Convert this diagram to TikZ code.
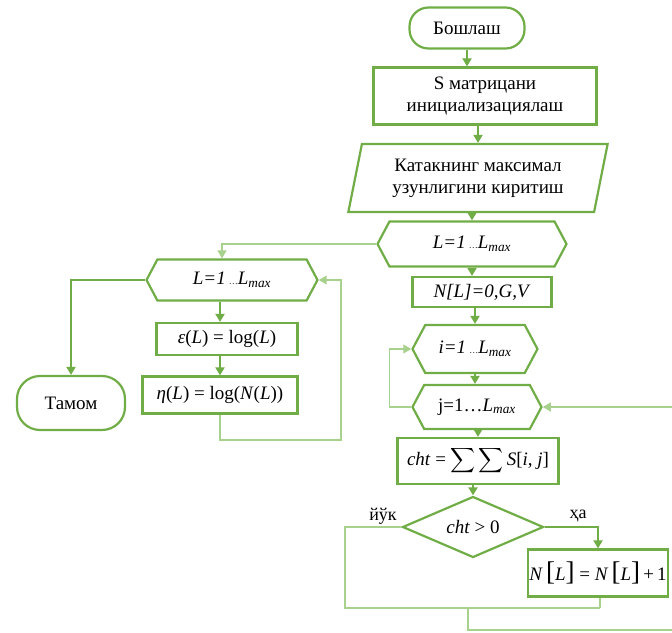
\documentclass[tikz,border=0pt]{standalone}
\usepackage{amsmath}
\usepackage{fontspec}
\setmainfont{Liberation Serif}
\usetikzlibrary{shapes.geometric, shapes.symbols, arrows.meta}

\definecolor{flowgreen}{HTML}{70AD47}
\definecolor{loopgreen}{HTML}{A9D18E}
\newcommand{\lmaxtext}{\textit{L}\textsubscript{\textit{max}}}
\newcommand{\bigbr}[1]{{\fontsize{27}{27}\selectfont#1}}

\begin{document}
\begin{tikzpicture}[
        ->,
        >={Triangle[length=8pt,width=9pt]},
        x=1pt,
        y=1pt,
        yscale=-1,
        every node/.style={font=\fontsize{19}{22}\selectfont, inner sep=1pt},
        shape border/.style={draw=flowgreen, line width=2.2pt},
        terminal/.style={shape border, rectangle, rounded corners=19pt},
        process/.style={shape border, rectangle, align=center},
        inout/.style={shape border, trapezium, trapezium left angle=76,
            trapezium right angle=104, trapezium stretches=true, align=center},
        loopbox/.style={shape border, signal, signal to=west and east,
            signal pointer angle=124},
        decision/.style={shape border, diamond, aspect=2.3, inner sep=0pt},
        flow/.style={draw=flowgreen, line width=1.8pt},
        back/.style={draw=loopgreen, line width=1.4pt},
        branch/.style={font=\fontsize{18}{20}\selectfont}
    ]
    \clip (0,0) rectangle (672,632);

    \node[terminal, minimum width=115pt, minimum height=41pt] (start) at (467,28) {Бошлаш};
    \node[process, minimum width=223pt, minimum height=57pt] (init) at (485,96) {S матрицани\\инициализациялаш};
    \node[inout, minimum width=260pt, minimum height=68pt] (input) at (478,178) {Катакнинг максимал\\узунлигини киритиш};
    \node[loopbox, minimum width=189pt, minimum height=45pt] (loopL) at (472,244) {\textit{L=1}\,{\small…}\lmaxtext};
    \node[process, minimum width=139pt, minimum height=30pt] (nInit) at (482,292) {\textit{N[L]=0,G,V}};
    \node[loopbox, minimum width=125pt, minimum height=48pt] (loopI) at (475,349) {\textit{i=1}\,{\small…}\lmaxtext};
    \node[loopbox, minimum width=129pt, minimum height=44pt] (loopJ) at (477,407) {j=1…\lmaxtext};
    \node[process, minimum width=161pt, minimum height=46pt] (sum) at (478,461) {\textit{cht} = $\displaystyle\sum\sum$\,\textit{S}[\textit{i}, \textit{j}]};
    \node[decision, minimum width=141pt, minimum height=61pt] (test) at (473,527) {\textit{cht} > 0};
    \node[process, minimum width=137pt, minimum height=47pt] (inc) at (598,573) {\textit{N}\,\bigbr{[}\textit{L}\bigbr{]} = \textit{N}\,\bigbr{[}\textit{L}\bigbr{]}\,+\,1};

    \node[loopbox, minimum width=171pt, minimum height=41pt] (leftL) at (232,280) {\textit{L=1}\,{\small…}\lmaxtext};
    \node[process, minimum width=141pt, minimum height=32pt] (eps) at (227,339) {\textit{ε}(\textit{L}) = log(\textit{L})};
    \node[process, minimum width=155pt, minimum height=37pt] (eta) at (220,395) {\textit{η}(\textit{L}) = log(\textit{N}(\textit{L}))};
    \node[terminal, rounded corners=23pt, minimum width=108pt, minimum height=54pt] (finish) at (71,403) {Тамом};

    \node[branch] (no) at (383,516) {йўк};
    \node[branch] (yes) at (578,516) {ҳа};

    \coordinate (merge) at (600,608);
    \coordinate (leftturn) at (345,527);
    \coordinate (low) at (468,630);
    \coordinate (farright) at (690,630);
    \coordinate (loopright) at (341,440);

    % main column
    \draw[flow] (start.south) -- (start.south |- init.north);
    \draw[flow] (input |- init.south) -- (input.north);
    \draw[flow] (loopL |- input.south) -- (loopL.north);
    \draw[flow] (loopL.south) -- (loopL.south |- nInit.north);
    \draw[flow] (loopI |- nInit.south) -- (loopI.north);
    \draw[flow] (loopI.south) -- (loopI.south |- loopJ.north);
    \draw[flow] (sum |- loopJ.south) -- (sum.north);
    \draw[flow] (test |- sum.south) -- (test.north);
    \draw[flow] (test.east) -| (inc.north);
    \draw[back, -] (test.west) -- (test.west -| leftturn) |- (merge);
    \draw[back, -] (inc.south -| merge) -- (merge);
    \draw[back] (low |- merge) -- (low) -- (farright) |- (loopJ.east);
    \draw[back] (loopJ.west) -- ++(-22,0) |- (loopI.west);

    % left column
    \draw[back] (loopL.west) -| ([xshift=-10pt]leftL.north);
    \draw[flow] (leftL.west) -| (finish.north);
    \draw[flow] (eta |- leftL.south) -- (eta |- eps.north);
    \draw[flow] (eta |- eps.south) -- (eta.north);
    \draw[back] (eta.south) |- (loopright) |- (leftL.east);
\end{tikzpicture}
\end{document}
